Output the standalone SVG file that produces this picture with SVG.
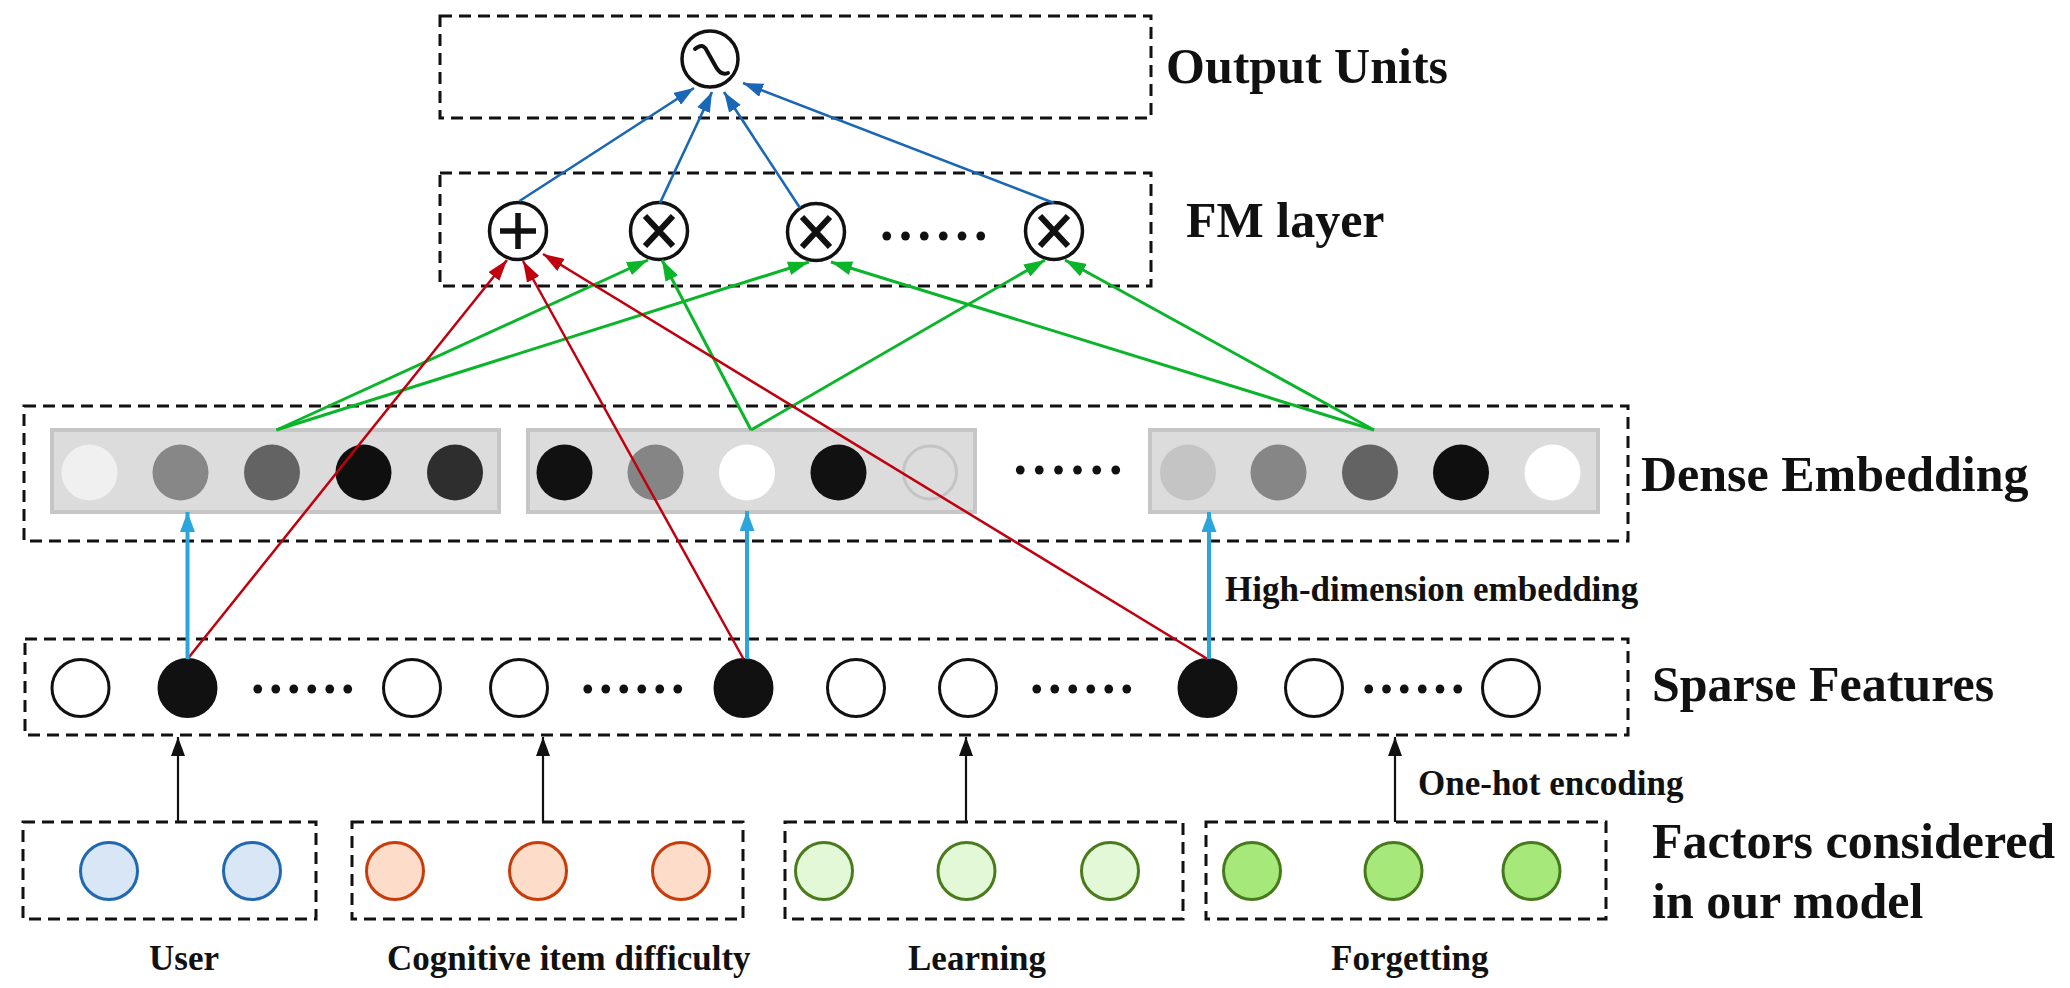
<svg xmlns="http://www.w3.org/2000/svg" width="2070" height="988" viewBox="0 0 2070 988">
<style>
.box{fill:none;stroke:#111;stroke-width:3;stroke-dasharray:12 7}
.lbl{font-family:"Liberation Serif","Times New Roman",serif;font-weight:bold;fill:#111}
.big{font-size:50px}
.sm{font-size:35px}
.dots{font-family:"Liberation Serif","Times New Roman",serif;font-weight:bold;font-size:54px;fill:#111}
.op{fill:#fff;stroke:#111;stroke-width:3.5}
.glyph{fill:none;stroke:#111;stroke-width:5.5;stroke-linecap:butt}
.sp{fill:#fff;stroke:#111;stroke-width:3}
.spb{fill:#111;stroke:#111;stroke-width:3}
.emb{fill:#dcdcdc;stroke:#c6c6c6;stroke-width:4}
.cu{fill:#d8e6f6;stroke:#2068b0;stroke-width:3}
.cc{fill:#fddcca;stroke:#c83c0a;stroke-width:3}
.cl{fill:#e3f8d6;stroke:#4b7c1c;stroke-width:3}
.cf{fill:#a6e87a;stroke:#467a1c;stroke-width:3}
.blue{stroke:#1a67b5;stroke-width:2.6;fill:none;marker-end:url(#mBlue)}
.lblue{stroke:#2aa6dd;stroke-width:4;fill:none;marker-end:url(#mLBlue)}
.red{stroke:#c0000f;stroke-width:2.5;fill:none;marker-end:url(#mRed)}
.green{stroke:#0ab52a;stroke-width:3;fill:none;marker-end:url(#mGreen)}
.black{stroke:#111;stroke-width:2.2;fill:none;marker-end:url(#mBlack)}
</style>
<defs>
<marker id="mBlue" markerUnits="userSpaceOnUse" viewBox="0 0 20 14" markerWidth="20" markerHeight="14" refX="20" refY="7" orient="auto"><path d="M0,0 L20,7 L0,14 z" fill="#1a67b5"/></marker>
<marker id="mLBlue" markerUnits="userSpaceOnUse" viewBox="0 0 20 15" markerWidth="20" markerHeight="15" refX="20" refY="7.5" orient="auto"><path d="M0,0 L20,7.5 L0,15 z" fill="#2aa6dd"/></marker>
<marker id="mRed" markerUnits="userSpaceOnUse" viewBox="0 0 21 14" markerWidth="21" markerHeight="14" refX="21" refY="7" orient="auto"><path d="M0,0 L21,7 L0,14 z" fill="#c0000f"/></marker>
<marker id="mGreen" markerUnits="userSpaceOnUse" viewBox="0 0 21 14" markerWidth="21" markerHeight="14" refX="21" refY="7" orient="auto"><path d="M0,0 L21,7 L0,14 z" fill="#0ab52a"/></marker>
<marker id="mBlack" markerUnits="userSpaceOnUse" viewBox="0 0 19 14" markerWidth="19" markerHeight="14" refX="19" refY="7" orient="auto"><path d="M0,0 L19,7 L0,14 z" fill="#111"/></marker>
</defs>
<rect width="2070" height="988" fill="#fff"/>

<g id="output-units">
<rect class="box" x="440" y="16" width="711" height="102"/>
<circle class="op" cx="710" cy="59" r="28"/>
<path d="M695,49 Q703,42 707,51 L716,67 Q721,76 728,73" fill="none" stroke="#111" stroke-width="4" stroke-linecap="round"/>
<text class="lbl big" x="1166" y="83">Output Units</text>
</g>

<g id="fm-layer">
<rect class="box" x="440" y="173" width="711" height="113"/>
<g id="fm-plus"><circle class="op" cx="518" cy="231" r="28.5"/><path class="glyph" d="M500,231 H536 M518,213 V249"/></g>
<g id="fm-times1"><circle class="op" cx="659" cy="231" r="28.5"/><path class="glyph" style="stroke-width:6" d="M645,216 L673,246 M673,216 L645,246"/></g>
<g id="fm-times2"><circle class="op" cx="816" cy="232" r="28.5"/><path class="glyph" style="stroke-width:6" d="M802,217 L830,247 M830,217 L802,247"/></g>
<text class="dots" x="880" y="239.5" letter-spacing="5.3">......</text>
<g id="fm-times3"><circle class="op" cx="1054" cy="231" r="28.5"/><path class="glyph" style="stroke-width:6" d="M1040,216 L1068,246 M1068,216 L1040,246"/></g>
<text class="lbl big" x="1186" y="237">FM layer</text>
</g>

<g id="dense-embedding">
<rect class="box" x="24" y="406" width="1604" height="135"/>
<g id="emb1">
<rect class="emb" x="52" y="430" width="447" height="82"/>
<circle cx="89.5" cy="472.5" r="28" fill="#f0f0f0"/>
<circle cx="180.5" cy="472.5" r="28" fill="#878787"/>
<circle cx="272" cy="472.5" r="28" fill="#636363"/>
<circle cx="363.5" cy="472.5" r="28" fill="#0f0f0f"/>
<circle cx="455" cy="472.5" r="28" fill="#2e2e2e"/>
</g>
<g id="emb2">
<rect class="emb" x="528" y="430" width="447" height="82"/>
<circle cx="564.5" cy="472.5" r="28" fill="#111"/>
<circle cx="655.5" cy="472.5" r="28" fill="#858585"/>
<circle cx="747" cy="472.5" r="28" fill="#fff"/>
<circle cx="838.5" cy="472.5" r="28" fill="#111"/>
<circle cx="930" cy="472.5" r="26.5" fill="none" stroke="#c4c4c4" stroke-width="3"/>
</g>
<text class="dots" x="1013.5" y="474" letter-spacing="5.6">......</text>
<g id="emb3">
<rect class="emb" x="1150" y="430" width="448" height="82"/>
<circle cx="1188" cy="472.5" r="28" fill="#c4c4c4"/>
<circle cx="1278.5" cy="472.5" r="28" fill="#868686"/>
<circle cx="1370" cy="472.5" r="28" fill="#636363"/>
<circle cx="1461" cy="472.5" r="28" fill="#0f0f0f"/>
<circle cx="1552.5" cy="472.5" r="28" fill="#fff"/>
</g>
<text class="lbl big" x="1641" y="491">Dense Embedding</text>
</g>

<g id="sparse-features">
<rect class="box" x="25" y="639" width="1603" height="96"/>
<circle class="sp" cx="80.5" cy="688" r="28.5"/>
<circle class="spb" cx="187.5" cy="688" r="28.5"/>
<text class="dots" x="251" y="692.5" letter-spacing="4.5">......</text>
<circle class="sp" cx="412" cy="688" r="28.5"/>
<circle class="sp" cx="519" cy="688" r="28.5"/>
<text class="dots" x="581" y="692.5" letter-spacing="4.5">......</text>
<circle class="spb" cx="743.5" cy="688" r="28.5"/>
<circle class="sp" cx="856" cy="688" r="28.5"/>
<circle class="sp" cx="968" cy="688" r="28.5"/>
<text class="dots" x="1030" y="692.5" letter-spacing="4.5">......</text>
<circle class="spb" cx="1207.5" cy="688" r="28.5"/>
<circle class="sp" cx="1314" cy="688" r="28.5"/>
<text class="dots" x="1362" y="692.5" letter-spacing="4.3">......</text>
<circle class="sp" cx="1511" cy="688" r="28.5"/>
<text class="lbl big" x="1652" y="701">Sparse Features</text>
</g>

<g id="factor-user">
<rect class="box" x="23" y="822" width="293" height="97"/>
<circle class="cu" cx="109" cy="871" r="28.5"/>
<circle class="cu" cx="252" cy="871" r="28.5"/>
<text class="lbl sm" x="149" y="970">User</text>
</g>
<g id="factor-cognitive">
<rect class="box" x="352" y="822" width="391" height="97"/>
<circle class="cc" cx="395" cy="871" r="28.5"/>
<circle class="cc" cx="538" cy="871" r="28.5"/>
<circle class="cc" cx="681" cy="871" r="28.5"/>
<text class="lbl sm" x="387" y="970">Cognitive item difficulty</text>
</g>
<g id="factor-learning">
<rect class="box" x="785" y="822" width="398" height="97"/>
<circle class="cl" cx="824" cy="871" r="28.5"/>
<circle class="cl" cx="966.5" cy="871" r="28.5"/>
<circle class="cl" cx="1110" cy="871" r="28.5"/>
<text class="lbl sm" x="908" y="970">Learning</text>
</g>
<g id="factor-forgetting">
<rect class="box" x="1206" y="822" width="400" height="97"/>
<circle class="cf" cx="1252" cy="871" r="28.5"/>
<circle class="cf" cx="1393.5" cy="871" r="28.5"/>
<circle class="cf" cx="1531.5" cy="871" r="28.5"/>
<text class="lbl sm" x="1331" y="970">Forgetting</text>
</g>
<g id="factors-label">
<text class="lbl big" x="1652" y="858">Factors considered</text>
<text class="lbl big" x="1652" y="918">in our model</text>
</g>

<g id="connectors">
<path class="blue" d="M519.5,201 L694,88"/>
<path class="blue" d="M660,203 L712,92"/>
<path class="blue" d="M800,208 L724,92"/>
<path class="blue" d="M1054,203 L743,83"/>

<path class="green" d="M276.5,430 L648,260"/>
<path class="green" d="M751,430 L662,260"/>
<path class="green" d="M276.5,430 L809,262"/>
<path class="green" d="M1374,430 L831,262"/>
<path class="green" d="M751,430 L1045,260"/>
<path class="green" d="M1374,430 L1065,260"/>

<path class="red" d="M187.5,659 L507,260"/>
<path class="red" d="M743.5,659 L523,261"/>
<path class="red" d="M1207.5,659 L543,254"/>

<path class="lblue" d="M187.5,659 L187.5,512"/>
<path class="lblue" d="M747,659 L747,511"/>
<path class="lblue" d="M1209,659 L1209,512"/>

<path class="black" d="M178,822 L178,737"/>
<path class="black" d="M543,822 L543,737"/>
<path class="black" d="M966,822 L966,737"/>
<path class="black" d="M1395,822 L1395,737"/>
</g>
<text class="lbl sm" x="1225" y="601">High-dimension embedding</text>
<text class="lbl sm" x="1418" y="795">One-hot encoding</text>
</svg>
